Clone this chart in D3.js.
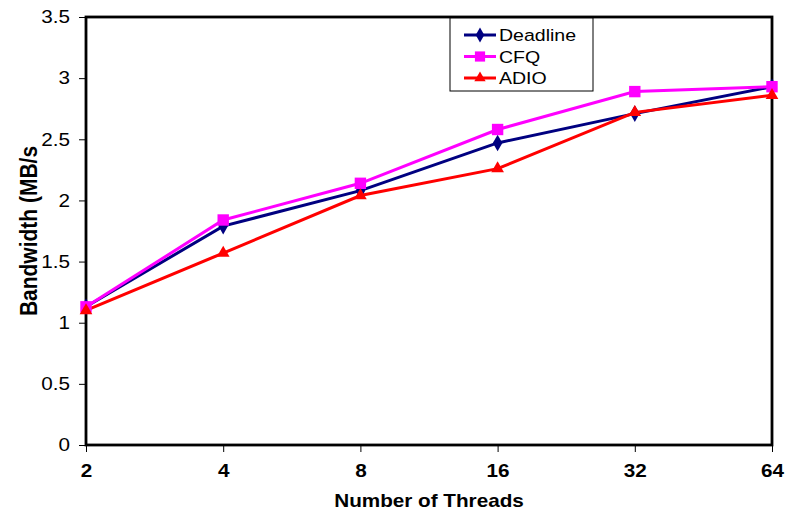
<!DOCTYPE html>
<html>
<head>
<meta charset="utf-8">
<script src="https://cdn.jsdelivr.net/npm/d3@7"></script>
<style>
  body { margin: 0; background: #fff; }
  svg text { font-family: Arial, "Liberation Sans", sans-serif; }
</style>
</head>
<body>
<svg width="788" height="514"></svg>
<script>
var threads = ["2", "4", "8", "16", "32", "64"];
var deadline = [1.13, 1.79, 2.08, 2.47, 2.71, 2.93];
var cfq = [1.13, 1.84, 2.14, 2.58, 2.89, 2.93];
var adio = [1.10, 1.57, 2.04, 2.26, 2.72, 2.86];
var yTicks = [0, 0.5, 1, 1.5, 2, 2.5, 3, 3.5];

var series = [
    {name: "Deadline", values: deadline, color: "#000080", symbol: d3.symbolDiamond, size: 80},
    {name: "CFQ", values: cfq, color: "#FF00FF", symbol: d3.symbolSquare, size: 130},
    {name: "ADIO", values: adio, color: "#FF0000", symbol: d3.symbolTriangle, size: 70}
];

// the original text is a little wider than plain Arial
var stretch = 1.15;

var svg = d3.select("svg");
var margin = {top: 17, right: 16, bottom: 69, left: 86};
var width = 788 - margin.left - margin.right;
var height = 514 - margin.top - margin.bottom;
var canvas = svg.append("g").attr("transform", "translate(" + margin.left + "," + margin.top + ")");

var x = d3.scalePoint().domain(threads).range([0, width]);
var y = d3.scaleLinear().domain([0, 3.5]).range([height, 0]);

// y axis
var yAxis = canvas.append("g")
    .call(d3.axisLeft(y).tickValues(yTicks).tickSize(7).tickFormat(function(d) { return d; }));
yAxis.select(".domain").remove();
yAxis.selectAll("line").attr("stroke", "#000").attr("stroke-width", 1);
yAxis.selectAll("text")
    .attr("x", -16 / stretch).attr("transform", "scale(" + stretch + ",1)")
    .style("font-size", "18px").attr("fill", "#000");

// x axis
var xAxis = canvas.append("g")
    .attr("transform", "translate(0," + height + ")")
    .call(d3.axisBottom(x).tickSize(7));
xAxis.select(".domain").remove();
xAxis.selectAll("line").attr("stroke", "#000").attr("stroke-width", 1);
xAxis.selectAll("text")
    .attr("y", 19).attr("transform", "scale(" + stretch + ",1)")
    .style("font-size", "18px").style("font-weight", "bold").attr("fill", "#000");

// frame
canvas.append("rect")
    .attr("x", 0).attr("y", 0).attr("width", width).attr("height", height)
    .attr("fill", "none").attr("stroke", "#000").attr("stroke-width", 2.8);

// lines
var line = d3.line()
    .x(function(d, i) { return x(threads[i]); })
    .y(function(d) { return y(d); });

series.forEach(function(s) {
    canvas.append("path")
        .datum(s.values)
        .attr("d", line)
        .attr("fill", "none")
        .attr("stroke", s.color)
        .attr("stroke-width", 3);
});
series.forEach(function(s) {
    canvas.selectAll(null).data(s.values).enter().append("path")
        .attr("d", d3.symbol().type(s.symbol).size(s.size))
        .attr("transform", function(d, i) { return "translate(" + x(threads[i]) + "," + y(d) + ")"; })
        .attr("fill", s.color);
});

// axis titles
svg.append("text")
    .attr("transform", "translate(" + (margin.left + width / 2) + ",507) scale(" + stretch + ",1)")
    .attr("text-anchor", "middle")
    .style("font-size", "18px").style("font-weight", "bold")
    .text("Number of Threads");

svg.append("text")
    .attr("transform", "translate(37," + (margin.top + height / 2) + ") rotate(-90) scale(1,"+ stretch + ")")
    .attr("text-anchor", "middle")
    .style("font-size", "21px").style("font-weight", "bold")
    .text("Bandwidth (MB/s");

// legend
var legend = svg.append("g").attr("transform", "translate(450,18)");
legend.append("rect")
    .attr("width", 143).attr("height", 73)
    .attr("fill", "#fff").attr("stroke", "#000").attr("stroke-width", 1);
var items = legend.selectAll("g.item").data(series).enter().append("g")
    .attr("class", "item")
    .attr("transform", function(d, i) { return "translate(0," + (17 + i * 21.5) + ")"; });
items.append("line")
    .attr("x1", 14).attr("x2", 46)
    .attr("stroke", function(d) { return d.color; })
    .attr("stroke-width", 3);
items.append("path")
    .attr("transform", "translate(30,0)")
    .attr("d", function(d) { return d3.symbol().type(d.symbol).size(d.size * 0.8)(); })
    .attr("fill", function(d) { return d.color; });
items.append("text")
    .attr("transform", "translate(49,6) scale(" + stretch + ",1)")
    .style("font-size", "17px")
    .text(function(d) { return d.name; });
</script>
</body>
</html>
